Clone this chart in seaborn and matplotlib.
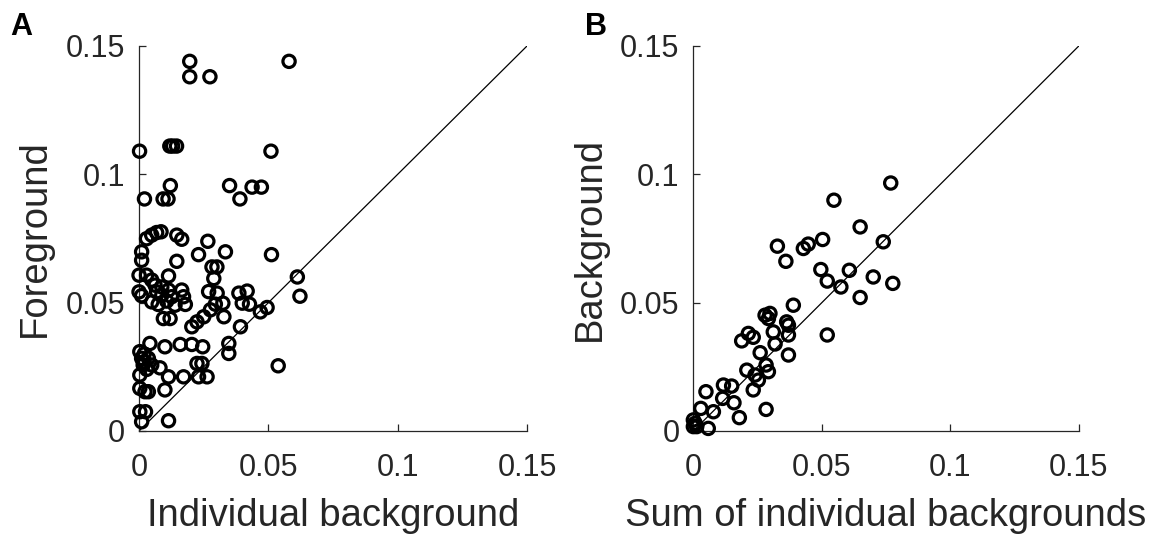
import pandas as pd
import seaborn as sns
import matplotlib
matplotlib.use("Agg")
import matplotlib.pyplot as plt

# Panel A: individual background vs foreground
a_x = [0.0196, 0.0196, 0.0274, 0.058, 0.0002, 0.0119, 0.013, 0.0145, 0.051, 0.0121,
       0.0021, 0.0093, 0.0112, 0.035, 0.039, 0.0437, 0.0473,
       0.0029, 0.0049, 0.0068, 0.0085, 0.0146, 0.0165, 0.0266, 0.023, 0.0334, 0.0512,
       0.001, 0.001, 0.0146, 0.0282, 0.0301, 0.0289, 0.0, 0.0029, 0.0114, 0.0049,
       0.0062, 0.0088, 0.0, 0.001, 0.0068, 0.0088, 0.0114, 0.0126, 0.0165, 0.0172,
       0.0049, 0.0074, 0.0107, 0.0139, 0.0179, 0.0094, 0.012, 0.0269, 0.0302, 0.0324,
       0.0295, 0.0276, 0.0386, 0.0418, 0.0399, 0.0427, 0.0469, 0.0495, 0.0328, 0.025,
       0.0224, 0.0204, 0.0392, 0.0612, 0.0622,
       0.0042, 0.01, 0.0003, 0.001, 0.0036, 0.0016, 0.0049, 0.0003, 0.0081, 0.0114,
       0.0172, 0.0159, 0.0204, 0.0246, 0.0224, 0.0243, 0.023, 0.0263, 0.0347, 0.0347,
       0.0003, 0.0023, 0.0036, 0.01, 0.0003, 0.0025, 0.001, 0.0114, 0.0538,
       0.002, 0.003, 0.002]
a_y = [0.144, 0.138, 0.138, 0.144, 0.109, 0.111, 0.111, 0.111, 0.109, 0.0956,
       0.0904, 0.0904, 0.0904, 0.0956, 0.0904, 0.095, 0.095,
       0.0749, 0.0763, 0.0773, 0.0776, 0.0763, 0.0747, 0.0739, 0.0687, 0.0698, 0.0687,
       0.0698, 0.0665, 0.0661, 0.0639, 0.0639, 0.0594, 0.0607, 0.0607, 0.0604, 0.0588,
       0.0568, 0.0561, 0.0542, 0.0527, 0.0542, 0.0529, 0.0549, 0.0523, 0.0549, 0.0523,
       0.0503, 0.0493, 0.0506, 0.049, 0.0493, 0.0438, 0.0438, 0.0543, 0.0537, 0.0498,
       0.0494, 0.0472, 0.0537, 0.0545, 0.0498, 0.0494, 0.0464, 0.0481, 0.0445, 0.0445,
       0.0425, 0.0406, 0.0406, 0.06, 0.0525,
       0.0341, 0.0328, 0.0309, 0.0283, 0.0283, 0.0257, 0.0257, 0.0218, 0.0246, 0.0211,
       0.0211, 0.0337, 0.0337, 0.0328, 0.0263, 0.0263, 0.0211, 0.0211, 0.0341, 0.0302,
       0.0166, 0.0153, 0.0153, 0.016, 0.0075, 0.0075, 0.0036, 0.004, 0.0254,
       0.027, 0.024, 0.030]

# Panel B: sum of individual backgrounds vs background
b_x = [0.0768, 0.0547, 0.0649, 0.0327, 0.036, 0.0428, 0.0447, 0.0503, 0.0739, 0.0496,
       0.0521, 0.0607, 0.0574, 0.07, 0.0776, 0.0649, 0.0389, 0.0279, 0.0298, 0.0292,
       0.0363, 0.037, 0.0311, 0.0214, 0.0233, 0.0188, 0.037, 0.0318, 0.0521, 0.026,
       0.037, 0.0283, 0.0292, 0.0208, 0.024, 0.0253, 0.0233, 0.0117, 0.0149, 0.0049,
       0.0114, 0.0158, 0.0283, 0.0029, 0.0078, 0.0179, 0.0, 0.0007, 0.0013, 0.0, 0.0058]
b_y = [0.0966, 0.0899, 0.0795, 0.072, 0.0661, 0.0711, 0.0728, 0.0746, 0.0737, 0.0629,
       0.0584, 0.0626, 0.0561, 0.06, 0.0575, 0.052, 0.049, 0.0451, 0.0458, 0.0438,
       0.0425, 0.0412, 0.0386, 0.038, 0.0365, 0.0351, 0.0374, 0.0339, 0.0374, 0.0305,
       0.0296, 0.0257, 0.0231, 0.0237, 0.0218, 0.0198, 0.016, 0.0179, 0.0175, 0.0153,
       0.0127, 0.011, 0.0084, 0.0088, 0.0075, 0.0052, 0.0043, 0.003, 0.0017, 0.0017, 0.001]

ticks = [0, 0.05, 0.1, 0.15]
tick_labels = ["0", "0.05", "0.1", "0.15"]

sns.set_style("ticks")
plt.rcParams["font.family"] = ["Liberation Sans", "DejaVu Sans"]
dark = "#262626"

fig = plt.figure(figsize=(11.51, 5.4), dpi=100)
ax_a = fig.add_axes([0.1208, 0.2019, 0.3371, 0.713])
ax_b = fig.add_axes([0.6024, 0.2019, 0.3349, 0.713])

panels = [
    (ax_a, a_x, a_y, "Individual background", "Foreground", "A"),
    (ax_b, b_x, b_y, "Sum of individual backgrounds", "Background", "B"),
]

for ax, xs, ys, xlab, ylab, letter in panels:
    df = pd.DataFrame({"x": xs, "y": ys})
    ax.plot([0, 0.15], [0, 0.15], color="black", lw=0.9, zorder=1)
    sns.scatterplot(data=df, x="x", y="y", ax=ax, marker="o", s=78,
                    facecolor="none", edgecolor="black", linewidth=2.3,
                    clip_on=False, zorder=3)
    ax.set_xlim(0, 0.15)
    ax.set_ylim(0, 0.15)
    ax.set_xticks(ticks)
    ax.set_xticklabels(tick_labels)
    ax.set_yticks(ticks)
    ax.set_yticklabels(tick_labels)
    ax.tick_params(direction="in", length=5, width=0.9, colors=dark, labelsize=22)
    ax.tick_params(axis="x", pad=16)
    ax.tick_params(axis="y", pad=10)
    for side in ["top", "right"]:
        ax.spines[side].set_visible(False)
    for side in ["left", "bottom"]:
        ax.spines[side].set_color(dark)
        ax.spines[side].set_linewidth(0.9)
    ax.set_xlabel(xlab, fontsize=27.5, color=dark, labelpad=11)
    ax.set_ylabel(ylab, fontsize=27.5, color=dark, labelpad=9)

fig.text(0.009, 0.935, "A", fontsize=22, fontweight="bold", color="black")
fig.text(0.508, 0.935, "B", fontsize=22, fontweight="bold", color="black")

fig.savefig("out.png", dpi=100)
